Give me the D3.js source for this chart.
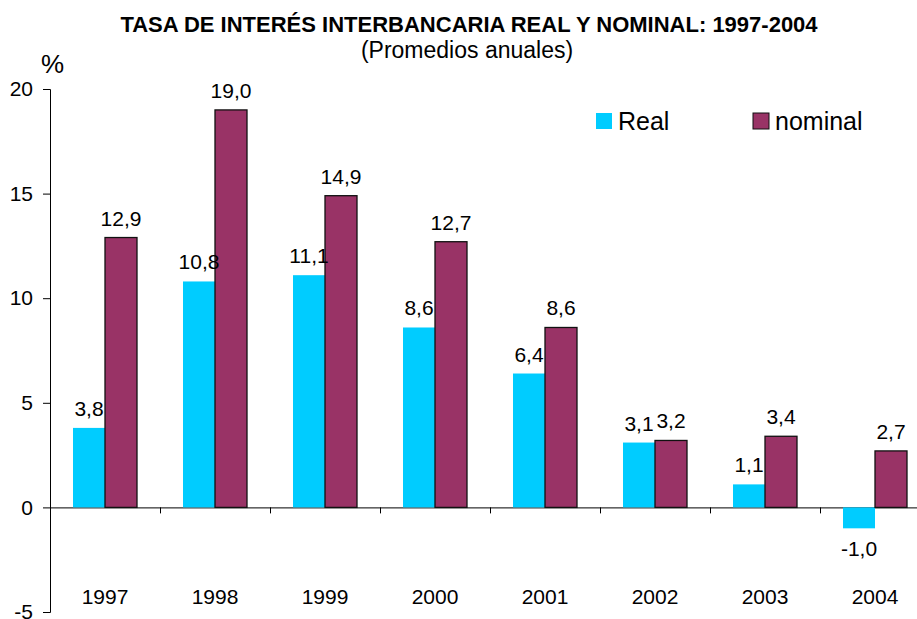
<!DOCTYPE html>
<html>
<head>
<meta charset="utf-8">
<script src="https://cdn.jsdelivr.net/npm/d3@7"></script>
<style>
  body { margin: 0; background: #fff; }
  text { font-family: Arial, "Liberation Sans", sans-serif; }
</style>
</head>
<body>
<div id="chart-area"></div>
<script>
// datos
var years = ["1997", "1998", "1999", "2000", "2001", "2002", "2003", "2004"];
var realRate = [3.8, 10.8, 11.1, 8.6, 6.4, 3.1, 1.1, -1.0];
var nominalRate = [12.9, 19.0, 14.9, 12.7, 8.6, 3.2, 3.4, 2.7];
var yTicks = [-5, 0, 5, 10, 15, 20];
var seriesNames = ["Real", "nominal"];

var colors = {Real: "#00ccff", nominal: "#993366"};

var margin = {left: 50, top: 89};
var width = 880;   // axis runs off the right edge
var height = 523;

var svg = d3.select("#chart-area").append("svg")
    .attr("width", 917)
    .attr("height", 619);

svg.append("text")
    .attr("x", 469)
    .attr("y", 32)
    .attr("text-anchor", "middle")
    .attr("font-size", 22)
    .attr("font-weight", "bold")
    .text("TASA DE INTERÉS INTERBANCARIA REAL Y NOMINAL: 1997-2004");

svg.append("text")
    .attr("x", 467)
    .attr("y", 58)
    .attr("text-anchor", "middle")
    .attr("font-size", 23)
    .text("(Promedios anuales)");

svg.append("text")
    .attr("x", 41)
    .attr("y", 73)
    .attr("font-size", 26)
    .text("%");

var g = svg.append("g")
    .attr("transform", "translate(" + margin.left + "," + margin.top + ")");

var x = d3.scaleBand()
    .domain(years)
    .range([0, width]);

var y = d3.scaleLinear()
    .domain([-5, 20])
    .range([height, 0]);

var barW = 32;

// y axis
var yAxis = g.append("g")
    .call(d3.axisLeft(y).tickValues(yTicks).tickSize(7).tickPadding(10)
        .tickFormat(function(d) { return String(d); }));
yAxis.select(".domain").attr("d", "M-7,0.5H0.5V" + (height + 0.5) + "H-7").attr("stroke", "#000");
yAxis.selectAll("text").attr("font-size", 21).attr("font-family", "Arial, 'Liberation Sans', sans-serif");

// zero line with category ticks
var xAxis = g.append("g")
    .attr("transform", "translate(0," + y(0) + ")")
    .call(d3.axisBottom(x).tickSize(0).tickFormat(""));
xAxis.select(".domain").attr("stroke", "#000");
xAxis.selectAll(".tick").remove();
years.forEach(function(yr, i) {
    if (i === 0) return;
    xAxis.append("line")
        .attr("x1", x(yr) + 0.5).attr("x2", x(yr) + 0.5)
        .attr("y1", 0).attr("y2", 6)
        .attr("stroke", "#000");
});

// year labels along the bottom
g.selectAll(".year")
    .data(years)
    .enter().append("text")
    .attr("class", "year")
    .attr("x", function(d) { return x(d) + x.bandwidth() / 2; })
    .attr("y", height - 8)
    .attr("text-anchor", "middle")
    .attr("font-size", 21)
    .text(function(d) { return d; });

var fmt = function(v) { return v.toFixed(1).replace(".", ","); };

// real bars
g.selectAll(".real")
    .data(realRate)
    .enter().append("rect")
    .attr("class", "real")
    .attr("x", function(d, i) { return x(years[i]) + x.bandwidth() / 2 - barW; })
    .attr("y", function(d) { return y(Math.max(0, d)); })
    .attr("width", barW)
    .attr("height", function(d) { return Math.abs(y(d) - y(0)); })
    .attr("fill", colors.Real);

// nominal bars
g.selectAll(".nominal")
    .data(nominalRate)
    .enter().append("rect")
    .attr("class", "nominal")
    .attr("x", function(d, i) { return x(years[i]) + x.bandwidth() / 2; })
    .attr("y", function(d) { return y(Math.max(0, d)); })
    .attr("width", barW)
    .attr("height", function(d) { return Math.abs(y(d) - y(0)); })
    .attr("fill", colors.nominal)
    .attr("stroke", "#111")
    .attr("stroke-width", 1.3);

// value labels
g.selectAll(".lblReal")
    .data(realRate)
    .enter().append("text")
    .attr("x", function(d, i) { return x(years[i]) + x.bandwidth() / 2 - barW / 2; })
    .attr("y", function(d) { return d >= 0 ? y(d) - 12 : y(d) + 28; })
    .attr("text-anchor", "middle")
    .attr("font-size", 21)
    .text(fmt);

g.selectAll(".lblNom")
    .data(nominalRate)
    .enter().append("text")
    .attr("x", function(d, i) { return x(years[i]) + x.bandwidth() / 2 + barW / 2; })
    .attr("y", function(d) { return y(d) - 12; })
    .attr("text-anchor", "middle")
    .attr("font-size", 21)
    .text(fmt);

// LEGEND
var legendX = [596, 753];
seriesNames.forEach(function(s, i) {
    var row = svg.append("g").attr("transform", "translate(" + legendX[i] + ",113)");
    row.append("rect")
        .attr("width", 16).attr("height", 16)
        .attr("fill", colors[s])
        .attr("stroke", i === 1 ? "#111" : "none");
    row.append("text")
        .attr("x", 22)
        .attr("y", 17)
        .attr("font-size", 25)
        .text(s);
});
</script>
</body>
</html>
